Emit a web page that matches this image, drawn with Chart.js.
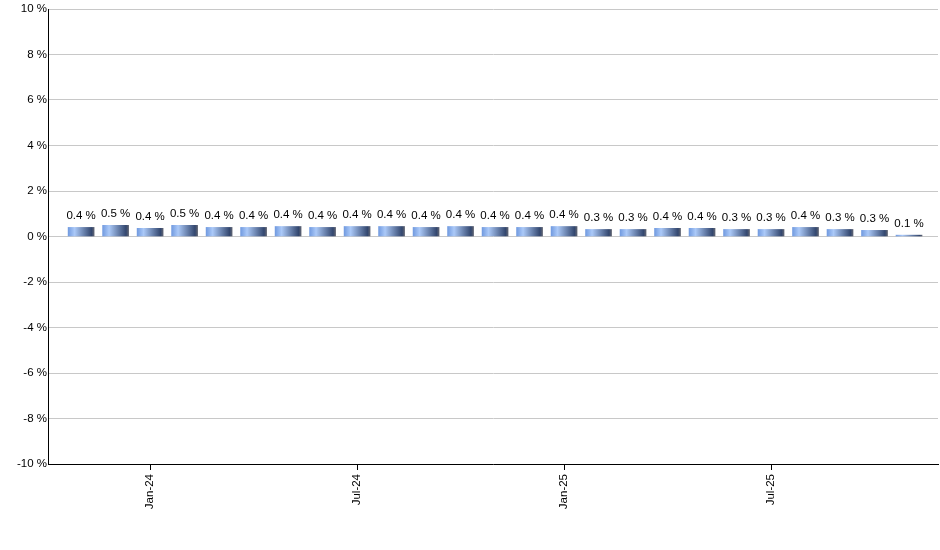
<!DOCTYPE html>
<html>
<head>
<meta charset="utf-8">
<script src="https://cdn.jsdelivr.net/npm/chart.js@4/dist/chart.umd.min.js"></script>
<style>
  html, body { margin: 0; padding: 0; background: #fff; }
  #wrap { width: 940px; height: 550px; position: relative; }
</style>
</head>
<body>
<div id="wrap"><canvas id="chart"></canvas></div>
<script>
// monthly values, Nov-23 .. Nov-25 (percent)
var months = ['Nov-23', 'Dec-23', 'Jan-24', 'Feb-24', 'Mar-24', 'Apr-24', 'May-24', 'Jun-24', 'Jul-24',
  'Aug-24', 'Sep-24', 'Oct-24', 'Nov-24', 'Dec-24', 'Jan-25', 'Feb-25', 'Mar-25', 'Apr-25', 'May-25',
  'Jun-25', 'Jul-25', 'Aug-25', 'Sep-25', 'Oct-25', 'Nov-25'];
var values = [0.40, 0.49, 0.36, 0.49, 0.40, 0.40, 0.44, 0.40, 0.44, 0.44, 0.40, 0.44, 0.40,
  0.40, 0.44, 0.31, 0.31, 0.36, 0.36, 0.31, 0.31, 0.40, 0.31, 0.27, 0.06];
var tickMonths = ['Jan-24', 'Jul-24', 'Jan-25', 'Jul-25'];
var yTicks = [-10, -8, -6, -4, -2, 0, 2, 4, 6, 8, 10];

var FONT = 'Liberation Sans, Arial, sans-serif';

// horizontal cylinder-ish gradient on each bar
function barFill(context) {
  var chart = context.chart;
  var xs = chart.scales.x;
  if (!xs || context.type !== 'data') return '#6a94dc';
  var cx = xs.getPixelForValue(context.dataIndex);
  if (!isFinite(cx)) return '#6a94dc';
  var g = chart.ctx.createLinearGradient(cx - 13, 0, cx + 13, 0);
  g.addColorStop(0, '#729be0');
  g.addColorStop(0.25, '#abc9f8');
  g.addColorStop(0.9, '#33476f');
  g.addColorStop(1, '#5e6372');
  return g;
}

// value labels above the bars
var valueLabels = {
  id: 'valueLabels',
  afterDatasetsDraw: function(chart) {
    var ctx = chart.ctx;
    var meta = chart.getDatasetMeta(0);
    ctx.save();
    ctx.font = '11.5px ' + FONT;
    ctx.fillStyle = '#000';
    ctx.textAlign = 'center';
    ctx.textBaseline = 'alphabetic';
    meta.data.forEach(function(bar, i) {
      ctx.fillText(values[i].toFixed(1) + ' %', bar.x, bar.y - 8);
    });
    ctx.restore();
  }
};

new Chart(document.getElementById('chart'), {
  type: 'bar',
  data: {
    datasets: [{
      data: values.map(function(v, i) { return { x: i, y: v }; }),
      backgroundColor: barFill,
      borderWidth: 0,
      barThickness: 26
    }]
  },
  options: {
    responsive: true,
    maintainAspectRatio: false,
    animation: false,
    layout: { padding: { left: 0, right: 2, top: 9, bottom: 0 } },
    plugins: { legend: { display: false }, tooltip: { enabled: false } },
    scales: {
      x: {
        type: 'linear',
        offset: false,
        min: -0.96,
        max: 24.84,
        afterBuildTicks: function(scale) {
          scale.ticks = tickMonths.map(function(m) { return { value: months.indexOf(m) }; });
        },
        afterFit: function(scale) { scale.height = 86; },
        grid: { offset: false, drawOnChartArea: false, drawTicks: true, tickLength: 6, color: '#000' },
        border: { color: '#000', width: 1 },
        ticks: {
          autoSkip: false,
          minRotation: 90,
          maxRotation: 90,
          padding: 4,
          color: '#000',
          font: { family: FONT, size: 11.5 },
          callback: function(v) { return months[v]; }
        }
      },
      y: {
        min: -10,
        max: 10,
        afterBuildTicks: function(scale) {
          scale.ticks = yTicks.map(function(v) { return { value: v }; });
        },
        afterFit: function(scale) { scale.width = 48; },
        grid: { color: '#c8c8c8', drawTicks: false },
        border: { color: '#000', width: 1 },
        ticks: {
          padding: 1,
          color: '#000',
          font: { family: FONT, size: 11.5 },
          callback: function(v) { return v + ' %'; }
        }
      }
    }
  },
  plugins: [valueLabels]
});
</script>
</body>
</html>
